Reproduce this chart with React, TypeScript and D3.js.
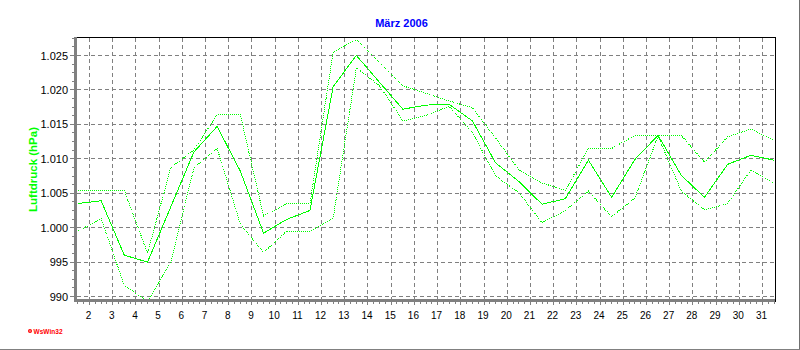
import * as d3 from 'd3';

// Luftdruck März 2006 – Tagesmittel, Maximum, Minimum (hPa)
const days = [1, 2, 3, 4, 5, 6, 7, 8, 9, 10, 11, 12, 13, 14, 15, 16, 17, 18, 19, 20, 21, 22, 23, 24, 25, 26, 27, 28, 29, 30, 31];
const meanP = [1003.5, 1003.9, 996.0, 995.0, 1003.0, 1011.0, 1014.7, 1008.2, 999.2, 1001.2, 1002.5, 1020.5, 1025.0, 1021.1, 1017.2, 1017.8, 1017.9, 1015.5, 1009.4, 1006.7, 1003.4, 1004.2, 1009.8, 1004.4, 1009.9, 1013.4, 1007.6, 1004.4, 1009.2, 1010.5, 1009.8];
const maxP = [1005.4, 1005.4, 1005.4, 996.3, 1008.7, 1011.3, 1016.4, 1016.4, 1001.7, 1003.5, 1003.5, 1025.5, 1027.3, 1024.0, 1020.6, 1019.5, 1018.4, 1017.4, 1013.0, 1008.4, 1006.5, 1005.4, 1011.5, 1011.5, 1013.4, 1013.4, 1013.4, 1009.5, 1013.2, 1014.3, 1012.7];
const minP = [999.5, 1001.3, 991.6, 989.3, 994.9, 1008.7, 1011.5, 1000.5, 996.4, 999.5, 999.5, 1001.4, 1023.2, 1020.6, 1015.5, 1016.3, 1017.6, 1013.8, 1007.5, 1005.1, 1000.7, 1002.5, 1005.3, 1001.6, 1004.3, 1013.3, 1005.3, 1002.6, 1003.5, 1008.4, 1006.5];
const yTicks = [990, 995, 1000, 1005, 1010, 1015, 1020, 1025];
const xTicks = [2, 3, 4, 5, 6, 7, 8, 9, 10, 11, 12, 13, 14, 15, 16, 17, 18, 19, 20, 21, 22, 23, 24, 25, 26, 27, 28, 29, 30, 31];

const W = 800;
const H = 350;
const left = 75;
const right = 775;
const top = 37;
const bottom = 300;
const GREEN = '#00FF00';
const GRID = '#808080';
const FONT = '"Liberation Sans", Arial, sans-serif';

const de = d3.formatLocale({ decimal: ',', thousands: '.', grouping: [3], currency: ['', ' €'] });
const fmt = de.format(',d');

export default function App() {
  const x = d3.scaleLinear().domain([2, 31]).range([89.5, 762.5]);
  const y = d3.scaleLinear().domain([990, 1025]).range([296.5, 55.5]);

  const line = (vals: number[]) =>
    d3
      .line<number>()
      .x((_, i) => x(days[i] + 0.5))
      .y((v) => y(v))(vals) || '';

  const minorX = d3.range(1.5, 31.75, 0.25).filter((d) => d % 1 !== 0);
  const minorY = d3.range(1, 31).map((k) => 990 + k * 1.25).filter((v) => (v - 990) % 5 !== 0);

  return (
    <svg
      width={W}
      height={H}
      style={{ position: 'fixed', left: 0, top: 0, background: '#fff' }}
      fontFamily={FONT}
    >
      <defs>
        <clipPath id="plot">
          <rect x={left + 2} y={top} width={right - left - 2} height={bottom - top - 1} />
        </clipPath>
      </defs>

      {/* outer frame */}
      <line x1={W - 0.5} x2={W - 0.5} y1={0} y2={H} stroke="#707070" shapeRendering="crispEdges" />
      <line x1={0} x2={W} y1={H - 0.5} y2={H - 0.5} stroke="#808080" shapeRendering="crispEdges" />

      {/* title */}
      <text x={401.5} y={27} textAnchor="middle" fontSize={11} fontWeight="bold" fill="#0000FF">
        März 2006
      </text>

      {/* grid */}
      <g stroke={GRID} strokeDasharray="4,3" shapeRendering="crispEdges">
        {yTicks.map((v) => (
          <line key={'h' + v} x1={left + 2} x2={right} y1={y(v)} y2={y(v)} />
        ))}
        {xTicks.map((d) => (
          <line key={'v' + d} x1={x(d)} x2={x(d)} y1={top + 1} y2={bottom - 1} />
        ))}
      </g>

      {/* data */}
      <g clipPath="url(#plot)" fill="none" stroke={GREEN} strokeWidth={1} shapeRendering="crispEdges">
        <path d={line(maxP)} strokeDasharray="1,1" />
        <path d={line(minP)} strokeDasharray="1,1" />
        <path d={line(meanP)} />
      </g>

      {/* frame + axes */}
      <g shapeRendering="crispEdges">
        <line x1={left - 1} x2={right + 1} y1={top + 0.5} y2={top + 0.5} stroke="#000" />
        <line x1={right + 0.5} x2={right + 0.5} y1={top} y2={bottom + 2} stroke="#000" />
        <line x1={left + 0.5} x2={left + 0.5} y1={top} y2={bottom + 2} stroke={GRID} strokeWidth={3} />
        <line x1={left - 1} x2={right} y1={bottom + 0.5} y2={bottom + 0.5} stroke={GRID} strokeWidth={3} />
      </g>

      {/* ticks */}
      <g stroke={GRID} shapeRendering="crispEdges">
        {minorX.map((d) => (
          <line key={'mx' + d} x1={x(d)} x2={x(d)} y1={bottom + 2} y2={bottom + 4} />
        ))}
        {xTicks.map((d) => (
          <line key={'tx' + d} x1={x(d)} x2={x(d)} y1={bottom + 2} y2={bottom + 5} />
        ))}
        {minorY.map((v) => (
          <line key={'my' + v} x1={left - 3} x2={left - 1} y1={y(v)} y2={y(v)} />
        ))}
        {yTicks.map((v) => (
          <line key={'ty' + v} x1={left - 5} x2={left - 1} y1={y(v)} y2={y(v)} />
        ))}
      </g>

      {/* tick labels */}
      <g fontSize={11} fill="#000" textAnchor="end">
        {yTicks.map((v) => (
          <text key={'ly' + v} x={68} y={y(v) + 4}>
            {fmt(v)}
          </text>
        ))}
      </g>
      <g fontSize={10} fill="#000" textAnchor="middle">
        {xTicks.map((d) => (
          <text key={'lx' + d} x={x(d) - 1} y={319}>
            {d}
          </text>
        ))}
      </g>

      {/* y-axis title */}
      <text
        transform="translate(36.5,169.5) rotate(-90)"
        textAnchor="middle"
        fontSize={11.5}
        fontWeight="bold"
        fill={GREEN}
      >
        Luftdruck (hPa)
      </text>

      {/* logo */}
      <circle cx={30} cy={331} r={2} fill="#FF0000" />
      <circle cx={30} cy={331} r={0.7} fill="#fff" />
      <text x={33.5} y={333.5} fontSize={6.5} fontWeight="bold" fill="#FF0000" textLength={29} lengthAdjust="spacing">
        WsWin32
      </text>
    </svg>
  );
}
